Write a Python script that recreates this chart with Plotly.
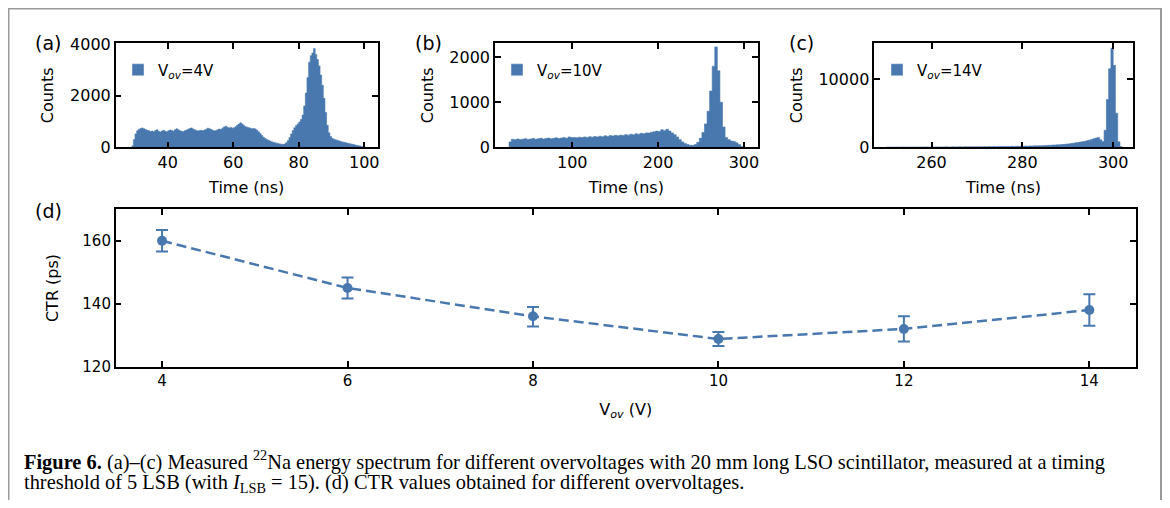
import numpy as np
import plotly.graph_objects as go

# ---------------- data ----------------
# (a) Vov = 4 V, 0.5 ns bins starting at 29 ns
a_start, a_width = 29.0, 0.5
a_counts = [60, 300, 520, 640, 700, 730, 750, 720, 690, 660,
            640, 610, 630, 600, 650, 680, 620, 590, 630, 660,
            620, 600, 640, 670, 650, 620, 680, 720, 680, 640,
            620, 610, 640, 670, 700, 730, 750, 710, 680, 650,
            630, 650, 660, 640, 670, 700, 740, 720, 690, 660,
            630, 650, 680, 710, 690, 740, 790, 820, 780, 750,
            770, 740, 760, 800, 850, 900, 950, 900, 840, 800,
            780, 760, 740, 720, 730, 710, 660, 600, 530, 460,
            390, 340, 300, 270, 240, 215, 195, 175, 160, 145,
            130, 120, 115, 130, 180, 260, 380, 520, 650, 760,
            840, 900, 980, 1080, 1250, 1600, 2100, 2700, 3300, 3550,
            3650, 3830, 3600, 3400, 3150, 2800, 2400, 1900, 1350, 850,
            560, 420, 350, 310, 290, 270, 250, 230, 210, 195,
            180, 165, 150, 135, 120, 105, 90, 75, 60, 48,
            35, 20]

# (b) Vov = 10 V, 3 ns bins starting at 26 ns
b_start, b_width = 26.0, 3.0
b_counts = [120, 180, 170, 185, 175, 180, 190, 175, 185, 195,
            180, 190, 200, 185, 195, 205, 190, 200, 210, 195,
            205, 215, 200, 230, 215, 220, 210, 225, 215, 230,
            220, 235, 225, 240, 230, 245, 235, 255, 240, 260,
            250, 265, 255, 270, 260, 280, 270, 290, 280, 300,
            290, 310, 300, 320, 315, 335, 345, 360, 350, 390,
            370, 400, 360, 320, 280, 230, 170, 120, 85, 60,
            45, 40, 60, 110, 200, 330, 520, 800, 1250, 1800,
            2230, 1700, 1000, 450, 220, 170, 140, 130, 100, 60, 20]

# (c) Vov = 14 V, 0.5 ns bins starting at 250 ns
c_start, c_width = 250.0, 0.5
c_counts = [30, 25, 35, 30, 40, 30, 35, 45, 30, 40,
            35, 45, 40, 35, 50, 40, 45, 55, 40, 50,
            45, 55, 50, 60, 45, 55, 65, 50, 60, 70,
            55, 65, 75, 60, 70, 80, 65, 75, 85, 70,
            80, 90, 75, 95, 85, 100, 90, 110, 95, 120,
            105, 125, 115, 135, 120, 145, 130, 155, 140, 165,
            160, 180, 170, 200, 190, 220, 210, 240, 230, 260,
            270, 300, 290, 330, 340, 370, 380, 410, 430, 470,
            500, 560, 600, 650, 700, 760, 820, 880,
            950, 1050, 1150, 1250, 1350, 1450,
            1100, 850,
            2500, 7000, 11500, 14500, 12000, 5000, 800, 100]

# (d) CTR vs overvoltage
vov = [4, 6, 8, 10, 12, 14]
ctr = [160, 145, 136, 128.8, 132, 138]
ctr_err_plus = [3.4, 3.3, 3.0, 2.2, 4.0, 5.0]
ctr_err_minus = [3.4, 3.3, 3.2, 2.2, 4.0, 5.0]

labels = ["V<sub><i>ov</i></sub>=4V", "V<sub><i>ov</i></sub>=10V", "V<sub><i>ov</i></sub>=14V"]

# ---------------- style ----------------
# page body adds an 8 px margin; figure sized so the page fits the window exactly
OFF = 8
W, H = 1170 - 2 * OFF, 508 - 2 * OFF
BLUE = "#4878AE"
FONT = "DejaVu Sans"


def px_x(p):  # p = target pixel in the screenshot
    return (p - OFF) / W


def px_y(p):
    return 1 - (p - OFF) / H


def edges(start, width, n):
    return start + width * np.arange(n + 1)


fig = go.Figure()

hists = [(a_start, a_width, a_counts), (b_start, b_width, b_counts), (c_start, c_width, c_counts)]
for i, (s, w, c) in enumerate(hists):
    sfx = "" if i == 0 else str(i + 1)
    # histogram drawn as a filled step outline (seamless bars)
    fig.add_trace(go.Scatter(
        x=edges(s, w, len(c)), y=list(c) + [c[-1]],
        mode="lines", line=dict(color=BLUE, width=0.6, shape="hv"),
        fill="tozeroy", fillcolor=BLUE, showlegend=False,
        xaxis="x" + sfx, yaxis="y" + sfx, hoverinfo="skip",
    ))
    # legend entry (filled patch)
    fig.add_trace(go.Bar(
        x=[None], y=[None], marker=dict(color=BLUE),
        name=labels[i], showlegend=True, legend="legend" + sfx,
        xaxis="x" + sfx, yaxis="y" + sfx,
    ))

fig.add_trace(go.Scatter(
    x=vov, y=ctr, mode="lines+markers",
    line=dict(color=BLUE, width=2.5, dash="10px,5px"),
    marker=dict(color=BLUE, size=10),
    error_y=dict(type="data", symmetric=False, array=ctr_err_plus, arrayminus=ctr_err_minus,
                 color=BLUE, thickness=2, width=6),
    showlegend=False, xaxis="x4", yaxis="y4",
))

ax_common = dict(showline=True, linecolor="black", linewidth=1.5, mirror="ticks",
                 ticks="inside", ticklen=6, tickwidth=1.5, tickcolor="black",
                 showgrid=False, zeroline=False, layer="above traces",
                 tickfont=dict(family=FONT, size=16, color="black"))

top_y = [px_y(147.3), px_y(43.3)]
dom_d_y = [px_y(366.7), px_y(209.3)]

layout = dict(
    width=W, height=H,
    margin=dict(l=0, r=0, t=0, b=0, autoexpand=False),
    paper_bgcolor="white", plot_bgcolor="white",
    bargap=0, barmode="overlay",
    font=dict(family=FONT, color="black"),
)

# panel (a)
layout["xaxis"] = dict(ax_common, domain=[px_x(115.7), px_x(377.7)], anchor="y",
                       range=[24.1, 104.1], tickvals=[40, 60, 80, 100],
                       title=dict(text="Time (ns)", font=dict(size=16), standoff=11))
layout["yaxis"] = dict(ax_common, domain=top_y, anchor="x", range=[0, 4030],
                       tickvals=[0, 2000, 4000],
                       title=dict(text="Counts", font=dict(size=16), standoff=12))
# panel (b)
layout["xaxis2"] = dict(ax_common, domain=[px_x(495), px_x(757.7)], anchor="y2",
                        range=[10, 316], tickvals=[100, 200, 300],
                        title=dict(text="Time (ns)", font=dict(size=16), standoff=11))
layout["yaxis2"] = dict(ax_common, domain=top_y, anchor="x2", range=[0, 2310],
                        tickvals=[0, 1000, 2000],
                        title=dict(text="Counts", font=dict(size=16), standoff=12))
# panel (c)
layout["xaxis3"] = dict(ax_common, domain=[px_x(874.3), px_x(1132.7)], anchor="y3",
                        range=[247.4, 304.3], tickvals=[260, 280, 300],
                        title=dict(text="Time (ns)", font=dict(size=16), standoff=11))
layout["yaxis3"] = dict(ax_common, domain=top_y, anchor="x3", range=[0, 15230],
                        tickvals=[0, 10000], tickformat="d",
                        title=dict(text="Counts", font=dict(size=16), standoff=12))
# panel (d)
layout["xaxis4"] = dict(ax_common, domain=[px_x(115.7), px_x(1135.7)], anchor="y4",
                        range=[3.5, 14.5], tickvals=vov,
                        tickfont=dict(family=FONT, size=15, color="black"),
                        title=dict(text="V<sub><i>ov</i></sub> (V)", font=dict(size=16), standoff=14))
layout["yaxis4"] = dict(ax_common, domain=dom_d_y, anchor="x4", range=[120, 170],
                        tickvals=[120, 140, 160],
                        tickfont=dict(family=FONT, size=15, color="black"),
                        title=dict(text="CTR (ps)", font=dict(size=16), standoff=20))

leg_common = dict(xanchor="left", yanchor="middle", bgcolor="rgba(0,0,0,0)",
                  font=dict(family=FONT, size=15, color="black"), borderwidth=0)
layout["legend"] = dict(leg_common, x=px_x(118), y=px_y(70))
layout["legend2"] = dict(leg_common, x=px_x(497), y=px_y(70))
layout["legend3"] = dict(leg_common, x=px_x(877), y=px_y(70))

fig.update_layout(**layout)

# panel letters
for txt, x, y in [("(a)", 48, 43), ("(b)", 428, 43), ("(c)", 801, 43), ("(d)", 48, 211)]:
    fig.add_annotation(text=txt, x=px_x(x), y=px_y(y), xref="paper", yref="paper",
                       showarrow=False, xanchor="center", yanchor="middle",
                       font=dict(family=FONT, size=19, color="black"))

# caption
CAP = "Liberation Serif"
fig.add_annotation(
    text="<b>Figure 6.</b> (a)–(c) Measured <sup>22</sup>Na energy spectrum for different overvoltages "
         "with 20 mm long LSO scintillator, measured at a timing",
    x=px_x(22), y=px_y(460), xref="paper", yref="paper", showarrow=False,
    xanchor="left", yanchor="middle", font=dict(family=CAP, size=20.4, color="black"))
fig.add_annotation(
    text="threshold of 5 LSB (with <i>I</i><sub>LSB</sub> = 15). (d) CTR values obtained for different overvoltages.",
    x=px_x(22), y=px_y(483), xref="paper", yref="paper", showarrow=False,
    xanchor="left", yanchor="middle", font=dict(family=CAP, size=20.4, color="black"))

# figure frame
fig.add_shape(type="rect", xref="paper", yref="paper",
              x0=px_x(8.5), x1=px_x(1161), y0=-0.05, y1=px_y(8.5),
              line=dict(color="#9a9a9a", width=2), fillcolor="rgba(0,0,0,0)", layer="below")

fig.write_html("out.html")
